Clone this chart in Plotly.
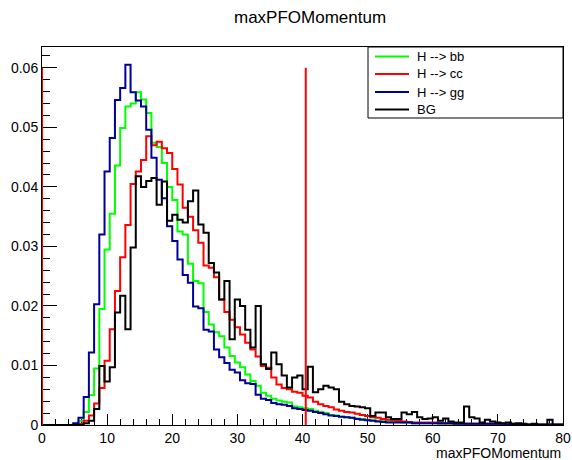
import numpy as np
import plotly.graph_objects as go

# ---- data (100 bins from 0 to 80) ----
x_low, x_high, n_bins = 0.0, 80.0, 100

h_bb = [0, 0, 0, 0, 0, 0, 0.0002, 0.0007, 0.0022, 0.0050,
        0.0095, 0.0195, 0.0295, 0.0355, 0.0436, 0.0499, 0.0535, 0.0540, 0.0559, 0.0547,
        0.0524, 0.0474, 0.0467, 0.0440, 0.0400, 0.0378, 0.0325, 0.0320, 0.0271, 0.0242,
        0.0238, 0.0190, 0.0169, 0.0156, 0.0149, 0.0130, 0.0116, 0.0105, 0.0097, 0.0085,
        0.0074, 0.0066, 0.0054, 0.0049, 0.0044, 0.0041, 0.0039, 0.0038, 0.0031, 0.0030,
        0.0028, 0.0027, 0.0024, 0.0022, 0.0020, 0.0017, 0.0016, 0.0014, 0.0013, 0.0012,
        0.0011, 0.0010, 0.0009, 0.0008, 0.0007, 0.0007, 0.0006, 0.0005, 0.0005, 0.0004,
        0.0004, 0.0003, 0.0003, 0.0003, 0.0003, 0.0003, 0.0002, 0.0002, 0.0002, 0.0002,
        0.0002, 0.0002, 0.0002, 0.0002, 0.0002, 0.0002, 0.0001, 0.0001, 0.0001, 0.0001,
        0.0001, 0.0001, 0.0001, 0.0001, 0.0001, 0.0001, 0.0001, 0.0001, 0.0001, 0.0001]

h_cc = [0, 0, 0, 0, 0, 0, 0, 0.0002, 0.0007, 0.0016,
        0.0036, 0.0062, 0.0108, 0.0161, 0.0225, 0.0282, 0.0336, 0.0405, 0.0426, 0.0445,
        0.0485, 0.0470, 0.0476, 0.0465, 0.0457, 0.0430, 0.0404, 0.0365, 0.0350, 0.0327,
        0.0306, 0.0268, 0.0264, 0.0248, 0.0211, 0.0190, 0.0177, 0.0164, 0.0152, 0.0138,
        0.0127, 0.0115, 0.0099, 0.0096, 0.0080, 0.0068, 0.0062, 0.0060, 0.0056, 0.0054,
        0.0049, 0.0046, 0.0039, 0.0035, 0.0032, 0.0030, 0.0026, 0.0024, 0.0022, 0.0021,
        0.0019, 0.0017, 0.0015, 0.0013, 0.0012, 0.0010, 0.0009, 0.0008, 0.0007, 0.0006,
        0.0005, 0.0004, 0.0004, 0.0004, 0.0004, 0.0004, 0.0003, 0.0003, 0.0003, 0.0003,
        0.0003, 0.0002, 0.0002, 0.0002, 0.0002, 0.0002, 0.0002, 0.0002, 0.0002, 0.0002,
        0.0002, 0.0001, 0.0001, 0.0001, 0.0001, 0.0001, 0.0001, 0.0001, 0.0001, 0.0001]

h_gg = [0, 0, 0, 0, 0, 0, 0.0003, 0.0012, 0.0047, 0.0122,
        0.0203, 0.0320, 0.0426, 0.0482, 0.0546, 0.0566, 0.0605, 0.0559, 0.0545, 0.0535,
        0.0496, 0.0449, 0.0412, 0.0381, 0.0334, 0.0309, 0.0278, 0.0252, 0.0239, 0.0199,
        0.0196, 0.0160, 0.0157, 0.0127, 0.0114, 0.0104, 0.0093, 0.0088, 0.0075, 0.0070,
        0.0069, 0.0051, 0.0044, 0.0042, 0.0037, 0.0035, 0.0034, 0.0032, 0.0028, 0.0027,
        0.0025, 0.0024, 0.0022, 0.0020, 0.0018, 0.0016, 0.0015, 0.0014, 0.0013, 0.0012,
        0.0010, 0.0009, 0.0008, 0.0007, 0.0006, 0.0005, 0.0004, 0.0004, 0.0004, 0.0004,
        0.0004, 0.0003, 0.0003, 0.0003, 0.0003, 0.0003, 0.0003, 0.0003, 0.0003, 0.0002,
        0.0002, 0.0002, 0.0002, 0.0002, 0.0002, 0.0002, 0.0002, 0.0002, 0.0002, 0.0001,
        0.0001, 0.0001, 0.0001, 0.0001, 0.0001, 0.0001, 0.0001, 0.0001, 0.0001, 0.0001]

h_bg = [0, 0, 0, 0, 0, 0, 0, 0, 0.0003, 0.0007,
        0.0027, 0.0099, 0.0073, 0.0097, 0.0189, 0.0217, 0.0161, 0.0298, 0.0418, 0.0400,
        0.0410, 0.0415, 0.0370, 0.0409, 0.0343, 0.0353, 0.0345, 0.0340, 0.0376, 0.0394,
        0.0337, 0.0323, 0.0272, 0.0256, 0.0211, 0.0242, 0.0144, 0.0211, 0.0200, 0.0160,
        0.0130, 0.0200, 0.0102, 0.0094, 0.0122, 0.0102, 0.0083, 0.0063, 0.0080, 0.0083,
        0.0060, 0.0098, 0.0055, 0.0060, 0.0066, 0.0063, 0.0060, 0.0039, 0.0035, 0.0032,
        0.0031, 0.0030, 0.0028, 0.0015, 0.0021, 0.0021, 0.0013, 0.0010, 0.0010, 0.0021,
        0.0018, 0.0022, 0.0013, 0.0010, 0.0011, 0.0013, 0.0007, 0.0011, 0.0006, 0.0004,
        0.0004, 0.0031, 0.0013, 0.0011, 0.0004, 0.0009, 0.0006, 0.0004, 0.0003, 0.0004,
        0.0002, 0.0003, 0.0002, 0.0, 0.0002, 0.0, 0.0, 0.0009, 0.0, 0.0]

series_names = ["H --> bb", "H --> cc", "H --> gg", "BG"]
series_colors = ["#00ff00", "#ff0000", "#000099", "#000000"]
cut_positions = [0.0, 40.5]
cut_height = 0.06
y_tick_vals = [0, 0.01, 0.02, 0.03, 0.04, 0.05, 0.06]
y_tick_text = ["0", "0.01", "0.02", "0.03", "0.04", "0.05", "0.06"]
x_tick_vals = [0, 10, 20, 30, 40, 50, 60, 70, 80]
title_text = "maxPFOMomentum"
x_title = "maxPFOMomentum"

edges = np.linspace(x_low, x_high, n_bins + 1)

FONT = "Liberation Sans, Arial, Helvetica, sans-serif"
fig = go.Figure()

for vals, name, col in zip([h_bb, h_cc, h_gg, h_bg], series_names, series_colors):
    fig.add_trace(go.Scatter(
        x=list(edges), y=list(vals) + [vals[-1]],
        mode="lines", line=dict(color=col, width=2, shape="hv"),
        name=name, showlegend=False, hoverinfo="skip"))

# cut lines, drawn through the data axes and not clipped at the frame
for c in cut_positions:
    fig.add_trace(go.Scatter(x=[c, c], y=[0, cut_height], mode="lines",
                             line=dict(color="#ff0000", width=2), cliponaxis=False,
                             showlegend=False, hoverinfo="skip"))

# plot area in pixels
L, R, T, B = 42, 563, 47, 425
W, H = 572, 460

def px(xp):
    return (xp - L) / (R - L)

def py(yp):
    return (B - yp) / (B - T)

# custom ROOT-like legend
shapes = [dict(type="rect", xref="paper", yref="paper",
               x0=px(368), x1=px(563), y0=py(118), y1=py(47),
               line=dict(color="black", width=1), fillcolor="white", layer="above")]
annotations = []
row_y = [56.5, 74, 92, 109.5]
for name, col, ry in zip(series_names, series_colors, row_y):
    shapes.append(dict(type="line", xref="paper", yref="paper",
                       x0=px(375), x1=px(409), y0=py(ry), y1=py(ry),
                       line=dict(color=col, width=2), layer="above"))
    annotations.append(dict(text=name, xref="paper", yref="paper",
                            x=px(415), y=py(ry), xanchor="left", yanchor="middle",
                            showarrow=False, font=dict(family=FONT, size=13, color="black")))

annotations.append(dict(text=title_text, xref="paper", yref="paper",
                        x=px(310), y=py(18), xanchor="center", yanchor="middle",
                        showarrow=False, font=dict(family=FONT, size=17, color="black")))
annotations.append(dict(text=x_title, xref="paper", yref="paper",
                        x=px(563), y=py(453), xanchor="right", yanchor="middle",
                        showarrow=False, font=dict(family=FONT, size=14, color="black")))

fig.update_layout(
    width=W, height=H,
    margin=dict(l=L, r=W - R, t=T, b=H - B, autoexpand=False),
    plot_bgcolor="white", paper_bgcolor="white",
    shapes=shapes, annotations=annotations,
    showlegend=False,
    xaxis=dict(range=[x_low, x_high], showgrid=False, zeroline=False, automargin=False,
               showline=True, mirror=True, linecolor="black", linewidth=1,
               ticks="inside", ticklen=11, tickcolor="black", tickwidth=1,
               tickvals=x_tick_vals, layer="below traces",
               tickfont=dict(family=FONT, size=14, color="black"),
               minor=dict(ticks="inside", ticklen=6, dtick=2, tickcolor="black")),
    yaxis=dict(range=[0, 0.0635], showgrid=False, zeroline=False, automargin=False,
               showline=True, mirror=True, linecolor="black", linewidth=1,
               ticks="inside", ticklen=15, tickcolor="black", tickwidth=1,
               tickvals=y_tick_vals, ticktext=y_tick_text, layer="below traces",
               tickfont=dict(family=FONT, size=14, color="black"),
               minor=dict(ticks="inside", ticklen=8, dtick=0.002, tickcolor="black")),
)

fig.write_html("out.html")
